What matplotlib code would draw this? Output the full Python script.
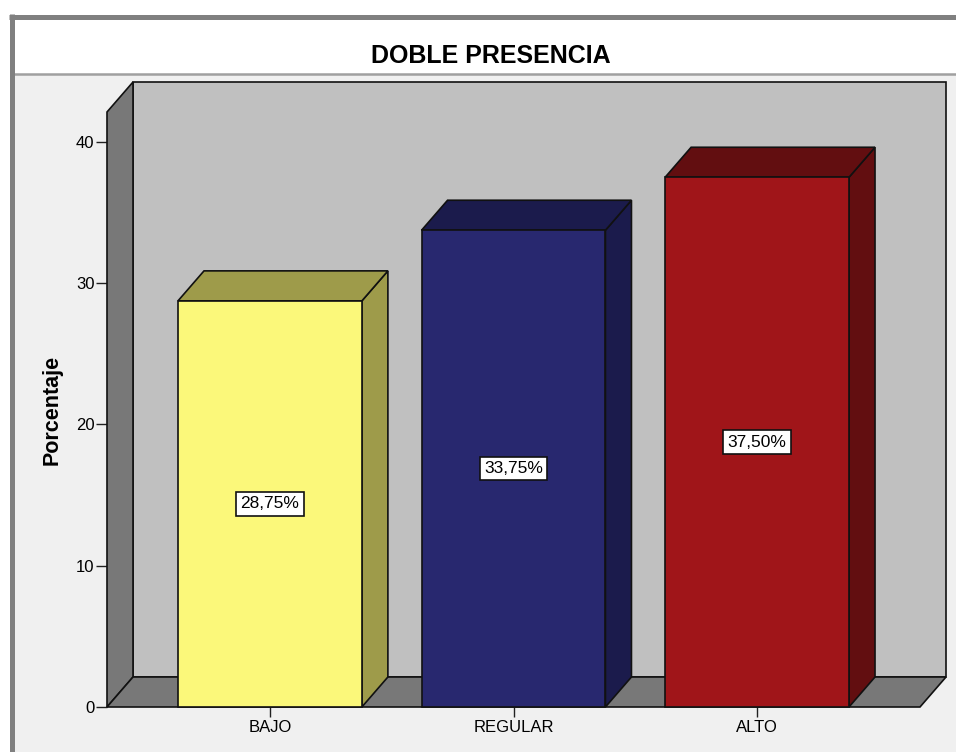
import matplotlib
matplotlib.use("Agg")
import matplotlib.pyplot as plt
from matplotlib.patches import Polygon, Rectangle
from matplotlib.lines import Line2D

plt.rcParams["font.family"] = ["Liberation Sans", "DejaVu Sans"]

categorias = ["BAJO", "REGULAR", "ALTO"]
porcentajes = [28.75, 33.75, 37.50]
etiquetas = ["28,75%", "33,75%", "37,50%"]
yticks = [0, 10, 20, 30, 40]
colores_frente = ["#fbf87a", "#28286f", "#a01519"]
colores_lado = ["#9e9b4a", "#1b1b4c", "#620e10"]

W, H, DPI = 956, 752, 100
fig = plt.figure(figsize=(W / DPI, H / DPI), dpi=DPI, facecolor="white")


def fx(x):
    return x / W


def fy(y):
    return 1 - y / H


# panel: light body, white title strip, grey frame
fig.patches.append(Rectangle((fx(14), 0), 1 - fx(14), fy(75), transform=fig.transFigure,
                             facecolor="#f0f0f0", edgecolor="none", zorder=-10))
fig.add_artist(Line2D([fx(14), 1], [fy(73.5)] * 2, lw=1.8, color="#a0a0a0", zorder=-5))
fig.add_artist(Line2D([fx(11.5)] * 2, [0, fy(14)], lw=3.6, color="#808080",
                      solid_capstyle="butt", zorder=-5))
fig.add_artist(Line2D([fx(9), 1], [fy(16.5)] * 2, lw=3.6, color="#808080",
                      solid_capstyle="butt", zorder=-5))

# axes sit on the front plane of the 3D box
ax = fig.add_axes([fx(107), fy(707), (920 - 107) / W, (707 - 112) / H])
ax.patch.set_visible(False)
X0, X1 = -0.669, 2.669
YTOP = 42.12
ax.set_xlim(X0, X1)
ax.set_ylim(0, YTOP)
for s in ax.spines.values():
    s.set_visible(False)

DX = 26 / 243.5          # depth offset in x data units
DY = 30 / (595 / YTOP)   # depth offset in y data units
BW = 0.755
EDGE = dict(edgecolor="#111111", linewidth=1.2, clip_on=False, joinstyle="miter")

wall = "#787878"
ax.add_patch(Polygon([(X0 + DX, DY), (X1 + DX, DY), (X1 + DX, YTOP + DY), (X0 + DX, YTOP + DY)],
                     facecolor="#c0c0c0", zorder=1, **EDGE))
ax.add_patch(Polygon([(X0, 0), (X0, YTOP), (X0 + DX, YTOP + DY), (X0 + DX, DY)],
                     facecolor=wall, zorder=2, **EDGE))
ax.add_patch(Polygon([(X0, 0), (X1, 0), (X1 + DX, DY), (X0 + DX, DY)],
                     facecolor=wall, zorder=2, **EDGE))

for i, (v, cf, cl, lab) in enumerate(zip(porcentajes, colores_frente, colores_lado, etiquetas)):
    xa, xb = i - BW / 2, i + BW / 2
    ax.add_patch(Polygon([(xb, 0), (xb + DX, DY), (xb + DX, v + DY), (xb, v)],
                         facecolor=cl, zorder=3, **EDGE))
    ax.add_patch(Polygon([(xa, v), (xb, v), (xb + DX, v + DY), (xa + DX, v + DY)],
                         facecolor=cl, zorder=3, **EDGE))
    ax.add_patch(Rectangle((xa, 0), BW, v, facecolor=cf, zorder=4, **EDGE))
    ax.text(i, v / 2, lab, ha="center", va="center", fontsize=12.5, zorder=6,
            bbox=dict(boxstyle="square,pad=0.25", facecolor="white", edgecolor="#111111", linewidth=1.2))

ax.set_xticks(range(len(categorias)), categorias)
ax.set_yticks(yticks)
ax.tick_params(axis="y", length=8, width=1, pad=1, labelsize=12, color="#202020")
ax.tick_params(axis="x", length=7, width=1, pad=2, labelsize=12, color="#202020")

fig.text(fx(491), fy(63), "DOBLE PRESENCIA", ha="center", va="baseline",
         fontsize=18, fontweight="bold")
fig.text(fx(52), fy(410), "Porcentaje", rotation=90, ha="center", va="center",
         fontsize=15.5, fontweight="bold")

fig.savefig("out.png", dpi=DPI)
